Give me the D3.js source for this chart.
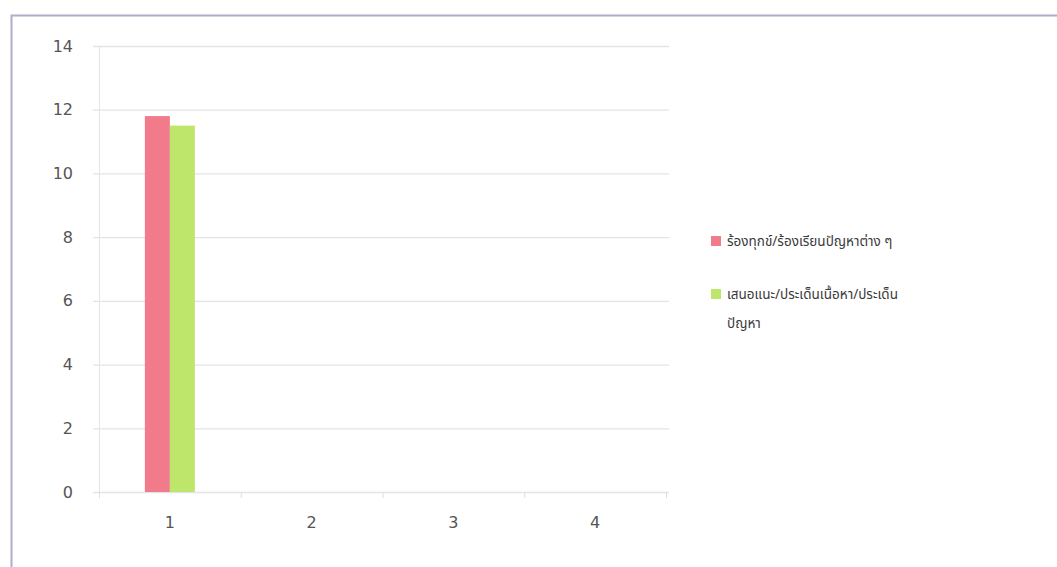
<!DOCTYPE html>
<html><head><meta charset="utf-8">
<script src="https://cdn.jsdelivr.net/npm/d3@7"></script>
<style>body{margin:0;background:#fff}svg{display:block}</style>
</head><body>
<svg id="c" width="1057" height="567"></svg>
<script>
const categories = ["1","2","3","4"];
const seriesNames = ["ร้องทุกข์/ร้องเรียนปัญหาต่าง ๆ","เสนอแนะ/ประเด็นเนื้อหา/ประเด็นปัญหา"];
const seriesLabelLines = [["ร้องทุกข์/ร้องเรียนปัญหาต่าง ๆ"],["เสนอแนะ/ประเด็นเนื้อหา/ประเด็น","ปัญหา"]];
const complaints = [11.8, 0, 0, 0];
const suggestions = [11.5, 0, 0, 0];
const colors = ["#f17b8b","#bde66a"];
const yTicks = [0,2,4,6,8,10,12,14];

const svg = d3.select("#c");
svg.append("rect").attr("x",11.5).attr("y",15.5).attr("width",1100).attr("height",600)
  .attr("fill","none").attr("stroke","#aeaec8").attr("stroke-width",2);

const x = d3.scaleBand().domain(categories).range([99,666]);
const y = d3.scaleLinear().domain([0,14]).range([492,46]);
const xs = d3.scaleBand().domain([0,1]).range([0,50]);

const g = svg.append("g");
g.selectAll("line.grid").data(yTicks).join("line")
  .attr("x1",93).attr("x2",669).attr("y1",d=>y(d)+0.5).attr("y2",d=>y(d)+0.5)
  .attr("stroke","#e4e4e4").attr("stroke-width",1.3);
g.append("line").attr("x1",99.5).attr("x2",99.5).attr("y1",y(14)).attr("y2",y(0)).attr("stroke","#e4e4e4");
g.selectAll("line.xt").data(d3.range(categories.length+1)).join("line")
  .attr("x1",d=>99+d*x.step()+0.5).attr("x2",d=>99+d*x.step()+0.5)
  .attr("y1",y(0)).attr("y2",y(0)+6).attr("stroke","#dedede");

const data = [complaints, suggestions];
data.forEach((vals,si)=>{
  g.selectAll("rect.s"+si).data(vals.map((v,i)=>({v,c:categories[i]}))).join("rect")
   .attr("x",d=>x(d.c)+x.bandwidth()/2-25+xs(si))
   .attr("width",xs.bandwidth())
   .attr("y",d=>y(d.v)).attr("height",d=>y(0)-y(d.v))
   .attr("fill",colors[si]);
});

g.selectAll("text.yl").data(yTicks).join("text")
  .attr("x",73).attr("y",d=>y(d)).attr("dy","0.35em").attr("text-anchor","end")
  .attr("font-family","'DejaVu Sans', Verdana, sans-serif").attr("font-size",16).attr("fill","#555")
  .text(d=>d);
g.selectAll("text.xl").data(categories).join("text")
  .attr("x",d=>x(d)+x.bandwidth()/2).attr("y",528).attr("text-anchor","middle")
  .attr("font-family","'DejaVu Sans', Verdana, sans-serif").attr("font-size",16).attr("fill","#555")
  .text(d=>d);

const legY = [241, 294];
seriesNames.forEach((n,i)=>{
  svg.append("rect").attr("x",711).attr("y",legY[i]-5).attr("width",10).attr("height",10).attr("fill",colors[i]);
  const t = svg.append("text").attr("x",727).attr("y",legY[i])
    .attr("font-family","'Noto Sans', 'Noto Sans Thai', sans-serif").attr("font-size",13.5).attr("fill","#3a3a3a");
  seriesLabelLines[i].forEach((ln,j)=>{
    t.append("tspan").attr("x",727).attr("dy", j===0 ? "0.35em" : "29px").text(ln);
  });
});
</script>
</body></html>
